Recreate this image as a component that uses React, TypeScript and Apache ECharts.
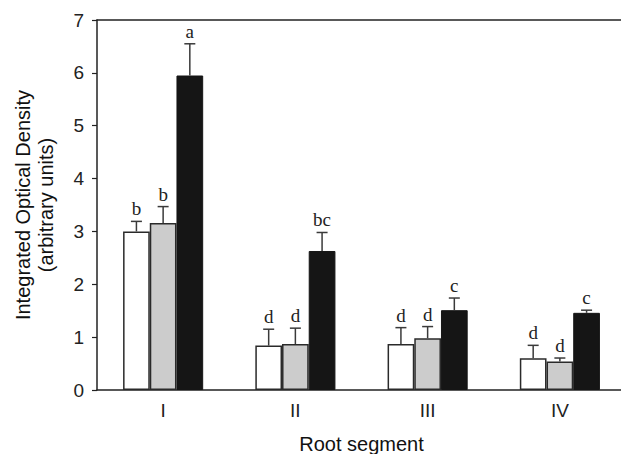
import React, { useEffect, useRef } from "react";
import * as echarts from "echarts";

const categories = ["I", "II", "III", "IV"];
const whiteValues = [3.0, 0.84, 0.87, 0.6];
const grayValues = [3.16, 0.87, 0.98, 0.54];
const blackValues = [5.95, 2.63, 1.51, 1.46];
const whiteErrors = [0.19, 0.31, 0.31, 0.245];
const grayErrors = [0.31, 0.3, 0.22, 0.065];
const blackErrors = [0.6, 0.35, 0.23, 0.05];
const whiteLetters = ["b", "d", "d", "d"];
const grayLetters = ["b", "d", "d", "d"];
const blackLetters = ["a", "bc", "c", "c"];
const yTicks = [0, 1, 2, 3, 4, 5, 6, 7];

const BAR_W = 26.7;

function errorSeries(values: number[], errors: number[], letters: string[], offset: number) {
  return {
    type: "custom",
    z: 5,
    silent: true,
    data: values.map((v, i) => [i, v, errors[i]]),
    renderItem: (params: any, api: any) => {
      const idx = api.value(0);
      const v = api.value(1);
      const e = api.value(2);
      const p0 = api.coord([idx, v]);
      const p1 = api.coord([idx, v + e]);
      const x = p0[0] + offset * BAR_W;
      const lineStyle = { stroke: "#3a3a3a", lineWidth: 1.5 };
      return {
        type: "group",
        children: [
          { type: "line", shape: { x1: x, y1: p0[1], x2: x, y2: p1[1] }, style: lineStyle },
          { type: "line", shape: { x1: x - 5.5, y1: p1[1], x2: x + 5.5, y2: p1[1] }, style: lineStyle },
          {
            type: "text",
            x: x,
            y: p1[1] - 3,
            style: {
              text: letters[params.dataIndex],
              align: "center",
              verticalAlign: "bottom",
              font: '19px "Liberation Serif"',
              fill: "#222",
            },
          },
        ],
      };
    },
  };
}

export default function App() {
  const ref = useRef<HTMLDivElement>(null);
  useEffect(() => {
    const chart = echarts.init(ref.current!, null, { renderer: "svg" });
    const barBorder = { borderColor: "#2a2a2a", borderWidth: 1.5 };
    chart.setOption({
      animation: false,
      grid: { left: 97, top: 20, right: -5, bottom: 64, outerBoundsMode: "none", containLabel: false },
      xAxis: [
        {
          type: "category",
          data: categories,
          position: "bottom",
          axisLine: { lineStyle: { color: "#222", width: 1.5 } },
          axisTick: { alignWithLabel: true, length: 5, lineStyle: { color: "#222", width: 1.2 } },
          axisLabel: { color: "#222", fontFamily: "Liberation Sans", fontSize: 19, margin: 11 },
          name: "Root segment",
          nameLocation: "middle",
          nameGap: 44,
          nameTextStyle: { color: "#111", fontFamily: "Liberation Sans", fontSize: 20 },
        },
        {
          type: "category",
          data: categories,
          position: "top",
          axisLine: { show: true, lineStyle: { color: "#222", width: 1.5 } },
          axisTick: { show: false },
          axisLabel: { show: false },
        },
      ],
      yAxis: {
        type: "value",
        min: yTicks[0],
        max: yTicks[yTicks.length - 1],
        interval: 1,
        axisLine: { show: true, lineStyle: { color: "#222", width: 1.5 } },
        axisTick: { show: true, length: 5, lineStyle: { color: "#222", width: 1.2 } },
        splitLine: { show: false },
        axisLabel: { color: "#222", fontFamily: "Liberation Sans", fontSize: 19, margin: 13 },
        name: "Integrated Optical Density\n(arbitrary units)",
        nameLocation: "middle",
        nameGap: 40,
        nameTextStyle: { color: "#111", fontFamily: "Liberation Sans", fontSize: 20, lineHeight: 23 },
      },
      series: [
        { type: "bar", data: whiteValues, barWidth: BAR_W, barGap: "0%", itemStyle: { color: "#ffffff", ...barBorder } },
        { type: "bar", data: grayValues, barWidth: BAR_W, barGap: "0%", itemStyle: { color: "#cccccc", ...barBorder } },
        { type: "bar", data: blackValues, barWidth: BAR_W, barGap: "0%", itemStyle: { color: "#151515", borderColor: "#151515", borderWidth: 1 } },
        errorSeries(whiteValues, whiteErrors, whiteLetters, -1),
        errorSeries(grayValues, grayErrors, grayLetters, 0),
        errorSeries(blackValues, blackErrors, blackLetters, 1),
      ],
    });
    return () => chart.dispose();
  }, []);
  return <div ref={ref} style={{ position: "fixed", left: 0, top: 0, width: 621, height: 454, background: "#fff" }} />;
}
